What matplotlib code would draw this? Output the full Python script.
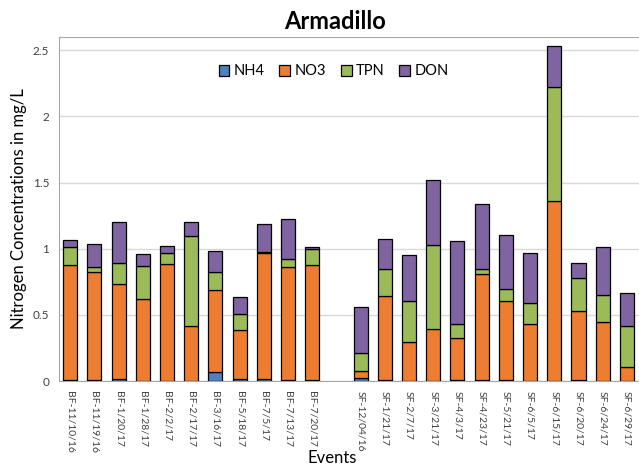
import numpy as np
import matplotlib.pyplot as plt

plt.rcParams['font.family'] = ['Lato', 'DejaVu Sans']

# events ("" = spacer between the two sites)
events = ["BF-11/10/16", "BF-11/19/16", "BF-1/20/17", "BF-1/28/17", "BF-2/2/17",
          "BF-2/17/17", "BF-3/16/17", "BF-5/18/17", "BF-7/5/17", "BF-7/13/17",
          "BF-7/20/17", "",
          "SF-12/04/16", "SF-1/21/17", "SF-2/7/17", "SF-3/21/17", "SF-4/3/17",
          "SF-4/23/17", "SF-5/21/17", "SF-6/5/17", "SF-6/15/17", "SF-6/20/17",
          "SF-6/24/17", "SF-6/29/17"]

nh4 = [0.005, 0.010, 0.015, 0.0, 0.0, 0.0, 0.065, 0.015, 0.015, 0.005, 0.010, 0,
       0.025, 0.005, 0.0, 0.0, 0.010, 0.010, 0.010, 0.0, 0.0, 0.010, 0.0, 0.0]
no3 = [0.870, 0.815, 0.720, 0.617, 0.884, 0.418, 0.625, 0.368, 0.950, 0.856, 0.866, 0,
       0.048, 0.637, 0.297, 0.390, 0.317, 0.800, 0.592, 0.428, 1.359, 0.516, 0.448, 0.108]
tpn = [0.140, 0.037, 0.160, 0.254, 0.080, 0.677, 0.131, 0.123, 0.008, 0.063, 0.119, 0,
       0.136, 0.204, 0.310, 0.640, 0.101, 0.036, 0.090, 0.159, 0.859, 0.250, 0.204, 0.305]
don = [0.050, 0.170, 0.305, 0.090, 0.060, 0.110, 0.161, 0.126, 0.214, 0.300, 0.015, 0,
       0.347, 0.226, 0.347, 0.486, 0.629, 0.488, 0.408, 0.382, 0.312, 0.118, 0.358, 0.249]

series = [("NH4", nh4, "#4F81BD"), ("NO3", no3, "#ED7D31"),
          ("TPN", tpn, "#9BBB59"), ("DON", don, "#8064A2")]

fig = plt.figure(figsize=(6.39, 4.67), dpi=100)
ax = fig.add_axes([0.092, 0.184, 0.908, 0.737])

x = np.arange(len(events))
mask = np.array([e != "" for e in events])
bottom = np.zeros(len(events))
for name, vals, color in series:
    vals = np.array(vals)
    ax.bar(x[mask], vals[mask], width=0.58, bottom=bottom[mask], color=color,
           edgecolor="black", linewidth=0.9, label=name, zorder=3)
    bottom += vals

ax.set_xlim(-0.47, 23.5)
ax.set_ylim(0, 2.6)
ax.set_yticks([0, 0.5, 1, 1.5, 2, 2.5])
ax.set_yticklabels(["0", "0.5", "1", "1.5", "2", "2.5"])
ax.yaxis.grid(True, color="#D9D9D9", linewidth=1, zorder=0)
ax.tick_params(axis="y", length=0, labelsize=8.5, colors="#404040", pad=7)

ax.set_xticks(x)
ax.set_xticklabels(events, rotation=270, fontsize=7.5, color="#404040")
ax.tick_params(axis="x", length=0, pad=7)

for s in ["left", "top", "bottom"]:
    ax.spines[s].set_color("#A6A6A6")
ax.spines["right"].set_visible(False)

ax.set_ylabel("Nitrogen Concentrations in mg/L", fontsize=12, color="black", labelpad=4)
fig.text(0.52, 0.02, "Events", ha="center", va="center", fontsize=12)
fig.text(0.524, 0.955, "Armadillo", ha="center", va="center", fontsize=17, fontweight="bold")

ax.legend(loc="center", bbox_to_anchor=(0.474, 0.9), ncol=4, frameon=False,
          fontsize=10.5, handlelength=0.75, handleheight=0.75, handletextpad=0.3,
          columnspacing=1.0)

fig.savefig("out.png", dpi=100)
